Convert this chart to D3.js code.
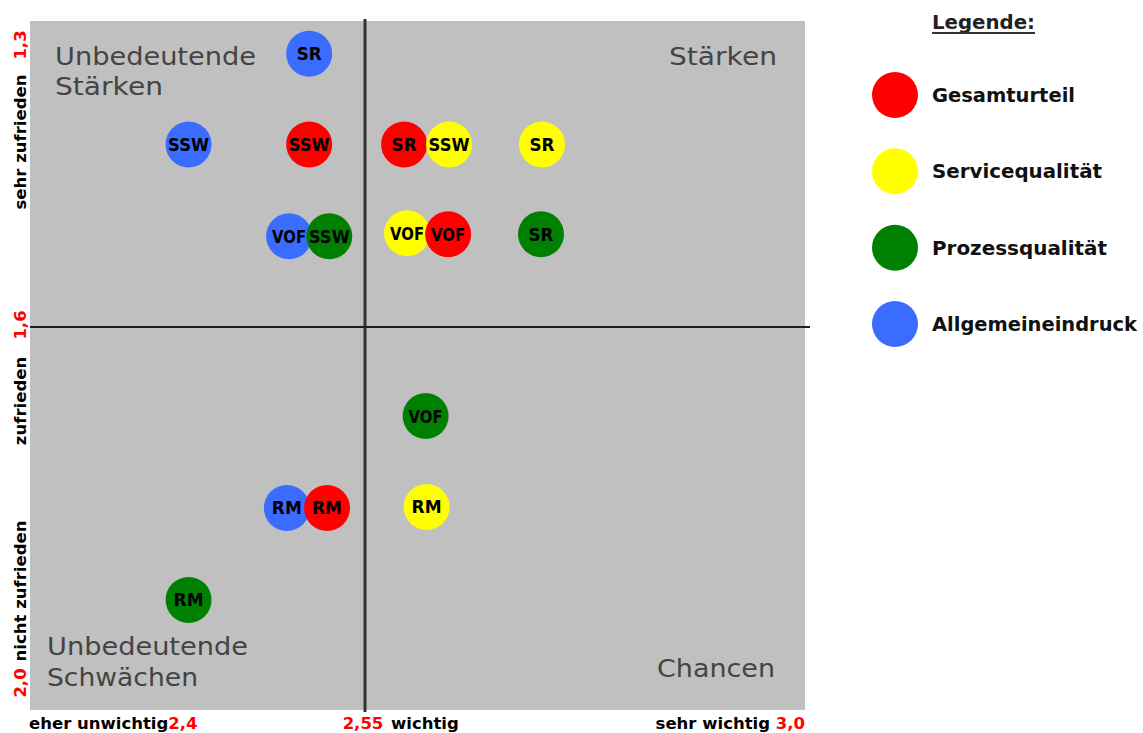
<!DOCTYPE html>
<html>
<head>
<meta charset="utf-8">
<script src="https://cdn.jsdelivr.net/npm/d3@7"></script>
<style>
  html, body { margin: 0; padding: 0; background: #ffffff; }
  svg { display: block; }
</style>
</head>
<body>
<svg id="chart" width="1143" height="733"></svg>
<script>
// ---------------- DATA ----------------
const segments = ["Gesamturteil", "Servicequalität", "Prozessqualität", "Allgemeineindruck"];
const segmentColors = ["#ff0000", "#ffff00", "#008000", "#3a6cff"];
const units = ["SR", "SSW", "VOF", "RM"];

// importance (x) and satisfaction (y) per unit [SR, SSW, VOF, RM]
const importanceGesamt      = [2.590, 2.525, 2.635, 2.533];
const satisfactionGesamt    = [1.421, 1.421, 1.509, 1.789];
const importanceService     = [2.731, 2.636, 2.593, 2.613];
const satisfactionService   = [1.421, 1.421, 1.508, 1.788];
const importanceProzess     = [2.730, 2.534, 2.612, 2.471];
const satisfactionProzess   = [1.509, 1.511, 1.693, 1.885];
const importanceAllgemein   = [2.525, 2.471, 2.516, 2.515];
const satisfactionAllgemein = [1.332, 1.421, 1.511, 1.789];

const xTickValues = [2.4, 2.55, 3.0];
const xTickLabels = ["2,4", "2,55", "3,0"];
const xAxisNames  = ["eher unwichtig", "wichtig", "sehr wichtig"];
const yTickValues = [1.3, 1.6, 2.0];
const yTickLabels = ["1,3", "1,6", "2,0"];
const yAxisNames  = ["sehr zufrieden", "zufrieden", "nicht zufrieden"];
const quadrantNames = [["Unbedeutende", "Stärken"], ["Stärken"], ["Unbedeutende", "Schwächen"], ["Chancen"]];
const legendTitle = "Legende:";

// ---------------- LAYOUT ----------------
const svg = d3.select("#chart");
const plot = { left: 30, right: 805, top: 21, bottom: 710 };
const x = d3.scaleLinear().domain(xTickValues).range([plot.left, 365, plot.right]);
const y = d3.scaleLinear().domain(yTickValues).range([plot.top, 327, plot.bottom]);

const boldFont = "'DejaVu Sans', Verdana, sans-serif";

// background
svg.append("rect")
  .attr("x", plot.left).attr("y", plot.top)
  .attr("width", plot.right - plot.left).attr("height", plot.bottom - plot.top)
  .attr("fill", "#c0c0c0");

// quadrant labels
const qFont = 25.5;
const qg = svg.append("g").attr("font-family", "'DejaVu Sans', Verdana, sans-serif")
  .attr("font-size", qFont).attr("fill", "#444444");
qg.append("text").attr("x", 55).attr("y", 65).attr("textLength", 201).attr("lengthAdjust", "spacingAndGlyphs").text(quadrantNames[0][0]);
qg.append("text").attr("x", 55).attr("y", 95).attr("textLength", 108).attr("lengthAdjust", "spacingAndGlyphs").text(quadrantNames[0][1]);
qg.append("text").attr("x", 777).attr("y", 65).attr("text-anchor", "end").attr("textLength", 108).attr("lengthAdjust", "spacingAndGlyphs").text(quadrantNames[1][0]);
qg.append("text").attr("x", 47).attr("y", 655).attr("textLength", 201).attr("lengthAdjust", "spacingAndGlyphs").text(quadrantNames[2][0]);
qg.append("text").attr("x", 47).attr("y", 686).attr("textLength", 151).attr("lengthAdjust", "spacingAndGlyphs").text(quadrantNames[2][1]);
qg.append("text").attr("x", 775).attr("y", 677).attr("text-anchor", "end").attr("textLength", 118).attr("lengthAdjust", "spacingAndGlyphs").text(quadrantNames[3][0]);

// cross lines
svg.append("line")
  .attr("x1", x(2.55)).attr("x2", x(2.55)).attr("y1", plot.top - 2).attr("y2", plot.bottom + 2)
  .attr("stroke", "#333").attr("stroke-width", 3);
svg.append("line")
  .attr("x1", plot.left).attr("x2", plot.right + 5).attr("y1", y(1.6)).attr("y2", y(1.6))
  .attr("stroke", "#1e1e1e").attr("stroke-width", 2);

// ---------------- BUBBLES ----------------
const seriesX = [importanceGesamt, importanceService, importanceProzess, importanceAllgemein];
const seriesY = [satisfactionGesamt, satisfactionService, satisfactionProzess, satisfactionAllgemein];
const points = [];
segments.forEach((s, si) => {
  units.forEach((u, ui) => {
    points.push({ seg: si, unit: u, ui: ui, xv: seriesX[si][ui], yv: seriesY[si][ui] });
  });
});
points.sort((a, b) => a.xv - b.xv);

const r = 23;
const labelWidths = [25, 41, 34, 30]; // style: rendered width of unit labels
const bubbles = svg.append("g").selectAll("g").data(points).join("g")
  .attr("transform", d => `translate(${x(d.xv)},${y(d.yv)})`);
bubbles.append("circle").attr("r", r).attr("fill", d => segmentColors[d.seg]);
bubbles.append("text")
  .attr("x", d => -labelWidths[d.ui] / 2)
  .attr("dy", "0.37em")
  .attr("font-family", boldFont).attr("font-weight", "bold").attr("font-size", 17.5)
  .attr("textLength", d => labelWidths[d.ui]).attr("lengthAdjust", "spacingAndGlyphs")
  .attr("fill", "#000")
  .text(d => d.unit);

// ---------------- AXIS LABELS ----------------
const axisFont = 16.5;
const bottomY = 729;
const t1 = svg.append("text").attr("x", x(2.4) - 1).attr("y", bottomY)
  .attr("font-family", boldFont).attr("font-weight", "bold").attr("font-size", axisFont);
t1.append("tspan").attr("fill", "#000").text(xAxisNames[0]);
t1.append("tspan").attr("fill", "#ff0000").text(xTickLabels[0]);

svg.append("text").attr("x", x(2.55) - 2).attr("y", bottomY).attr("text-anchor", "middle")
  .attr("font-family", boldFont).attr("font-weight", "bold").attr("font-size", axisFont)
  .attr("fill", "#ff0000").text(xTickLabels[1]);
svg.append("text").attr("x", x(2.55) + 26).attr("y", bottomY)
  .attr("font-family", boldFont).attr("font-weight", "bold").attr("font-size", axisFont)
  .attr("fill", "#000").text(xAxisNames[1]);

const t3 = svg.append("text").attr("x", x(3.0)).attr("y", bottomY).attr("text-anchor", "end")
  .attr("font-family", boldFont).attr("font-weight", "bold").attr("font-size", axisFont);
t3.append("tspan").attr("fill", "#000").text(xAxisNames[2] + " ");
t3.append("tspan").attr("fill", "#ff0000").text(xTickLabels[2]);

const leftX = 26;
const leftItems = [
  { t: yTickLabels[0], c: "#ff0000", pos: y(1.3) + 24 },
  { t: yAxisNames[0],  c: "#000",    pos: y(1.3) + 121 },
  { t: yTickLabels[1], c: "#ff0000", pos: y(1.6) - 2 },
  { t: yAxisNames[1],  c: "#000",    pos: y(1.6) + 74 },
  { t: yAxisNames[2],  c: "#000",    pos: y(2.0) - 119 },
  { t: yTickLabels[2], c: "#ff0000", pos: y(2.0) - 27 }
];
svg.append("g").selectAll("text").data(leftItems).join("text")
  .attr("transform", d => `translate(${leftX},${d.pos}) rotate(-90)`)
  .attr("text-anchor", "middle")
  .attr("font-family", boldFont).attr("font-weight", "bold").attr("font-size", axisFont)
  .attr("fill", d => d.c)
  .text(d => d.t);

// ---------------- LEGEND ----------------
const lg = svg.append("g");
lg.append("text").attr("x", 932).attr("y", 29)
  .attr("font-family", boldFont).attr("font-weight", "bold").attr("font-size", 19.5)
  .attr("fill", "#222").attr("textLength", 103).attr("lengthAdjust", "spacingAndGlyphs")
  .text(legendTitle);
lg.append("line").attr("x1", 932).attr("x2", 1035).attr("y1", 33).attr("y2", 33)
  .attr("stroke", "#333").attr("stroke-width", 2);

const legendY = d3.scalePoint().domain(segments).range([95, 324]);
const legendWidths = [143, 170, 175, 205];
const items = lg.selectAll("g.item").data(segments).join("g").attr("class", "item")
  .attr("transform", d => `translate(0,${legendY(d)})`);
items.append("circle").attr("cx", 895).attr("cy", 0).attr("r", 23)
  .attr("fill", (d, i) => segmentColors[i]);
items.append("text").attr("x", 932).attr("y", 7)
  .attr("font-family", boldFont).attr("font-weight", "bold").attr("font-size", 19.5)
  .attr("fill", "#111")
  .attr("textLength", (d, i) => legendWidths[i]).attr("lengthAdjust", "spacingAndGlyphs")
  .text(d => d);
</script>
</body>
</html>
